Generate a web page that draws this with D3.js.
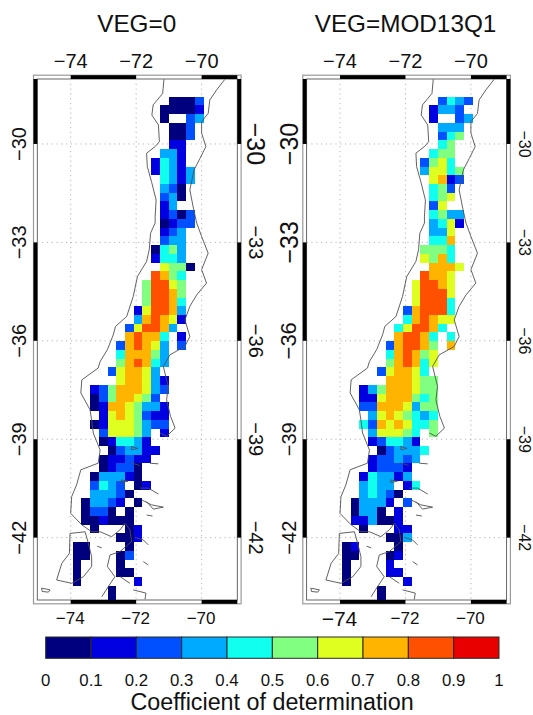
<!DOCTYPE html>
<html>
<head>
<meta charset="utf-8">
<script src="https://cdn.jsdelivr.net/npm/d3@7"></script>
<style>
html,body{margin:0;padding:0;background:#fff;}
svg{display:block;}
text{font-family:"Liberation Sans",Arial,sans-serif;fill:#111;}
</style>
</head>
<body>
<svg id="chart" width="533" height="715"></svg>
<script>
// ---------- data ----------
const panelTitles = ["VEG=0", "VEG=MOD13Q1"];
const lonTicks = [-74, -72, -70];
const latTicks = [-30, -33, -36, -39, -42];
const classBreaks = [0, 0.1, 0.2, 0.3, 0.4, 0.5, 0.6, 0.7, 0.8, 0.9, 1];
const breakLabels = ["0", "0.1", "0.2", "0.3", "0.4", "0.5", "0.6", "0.7", "0.8", "0.9", "1"];
const classColors = ["#00007f", "#0000e0", "#0050ff", "#00aaff", "#10ffee", "#80ff80", "#dfff20", "#ffb400", "#ff5000", "#e80000"];
const colorbarTitle = "Coefficient of determination";

// grid of the raster, degrees
const gridLon0 = -73.94, gridLat0 = -28.558, gridStepLon = 0.2666, gridStepLat = 0.2662;

// one string per grid row, north to south; digit = class index, "." = no data
const rowsVeg0 = [
"...........0002.","..........00001.","..........0..23.","...........002..","...........002..",
"...........11...","..........331...",".........1431...",".........14313..","..........4313..",
"..........320...","..........230...","..........13....","..........1202..","..........0122..",
"..........123...","..........233...",".........0453...",".........1443...","..........6550..",
".........8754...","........58865...","........58875...","........58874...",".......168873...",
".......378761...","......268873....","......78774.1...",".....278763.2...",".....477753.....",
".....578743.....","....267763......",".....677631.....","..125777632.....","..02577652......",
"..017765331.....","...16765211.....","..016665322.....","...266653.1.....","...014431.......",
"....023311......","...011211.......","...01220........","..033310........","..2432.01.......",
"..33320.........",".03321.0........",".0220.0.........",".001000.........","..0...01........",
".....001........","00....0.........","00...02.........","0....0..........","0....00.........",
"0......1........","....0...........","....0..........."
];
const rowsMod = [
"...........2432.","..........1332..","..........1..23.","...........333..","...........245..",
"...........45...","..........455...",".........2564...",".........36645..","..........6712..",
"..........452...","..........456...","..........26....","..........4533..","..........3461..",
"..........336...","..........447...",".........5554...",".........6574...","..........7776..",
".........8776...","........68876...","........68886...","........68884...",".......278884...",
".......478766...","......468874....","......78874.4...",".....278875.7...",".....478756.....",
".....578746.....","....267764......",".....777655.....","..135777655.....","..116777545.....",
"..227776355.....","...36765434.....","..427676445.....","...366654.5.....","...124431.......",
"....023334......","...122323.......","...12221........","..143313........","..3433.14.......",
"..34320.........",".03331.2........",".0330.1.........",".113001.........","..0...11........",
".....003........","01....0.........","00...01.........","0....1..........","0....11.........",
"0......1........","....0...........","....0..........."
];

// coastline and border, [lon, lat]
const westCoast = [[-71.15,-28.03],[-71.19,-28.46],[-71.48,-28.81],[-71.52,-29.12],[-71.32,-29.42],[-71.29,-29.93],[-71.42,-30.08],[-71.68,-30.28],[-71.66,-30.69],[-71.53,-31.15],[-71.39,-31.71],[-71.42,-32.22],[-71.42,-32.41],[-71.56,-32.72],[-71.60,-33.22],[-71.68,-33.58],[-71.96,-34.04],[-72.09,-34.65],[-72.29,-35.26],[-72.63,-35.56],[-72.70,-35.82],[-72.88,-36.27],[-73.10,-36.63],[-73.16,-36.83],[-73.66,-37.19],[-73.69,-37.59],[-73.41,-38.10],[-73.36,-38.41],[-73.31,-38.81],[-73.10,-39.33],[-73.16,-39.73],[-73.69,-39.93],[-73.82,-40.39],[-73.97,-40.75],[-74.00,-41.26],[-73.66,-41.61],[-73.36,-41.82],[-73.10,-41.82],[-72.75,-41.97],[-72.49,-41.76],[-72.34,-41.56],[-72.19,-41.76],[-72.14,-42.12],[-72.49,-42.42],[-72.80,-42.53],[-72.88,-42.88],[-72.65,-43.19],[-72.85,-43.49],[-73.05,-43.80]];
const eastBorder = [[-69.29,-28.03],[-69.54,-28.35],[-69.75,-28.66],[-69.80,-29.07],[-70.00,-29.32],[-70.00,-29.67],[-69.87,-30.08],[-70.05,-30.44],[-70.23,-30.79],[-70.36,-31.40],[-70.25,-31.96],[-70.17,-32.32],[-70.15,-32.41],[-70.00,-32.82],[-69.80,-33.33],[-70.00,-33.83],[-69.85,-34.24],[-70.15,-34.60],[-70.36,-34.95],[-70.51,-35.36],[-70.36,-35.87],[-70.51,-36.17],[-70.97,-36.43],[-71.17,-36.78],[-71.02,-37.39],[-71.07,-37.80],[-70.95,-38.30],[-70.81,-38.66],[-71.07,-38.91],[-71.27,-38.81]];
const fjords = [
[[-71.58,-39.73],[-71.32,-39.75]],
[[-71.88,-40.49],[-71.63,-40.49],[-71.32,-40.67]],
[[-71.83,-40.85],[-71.53,-41.0],[-71.17,-41.07],[-71.48,-41.13],[-71.68,-40.90]],
[[-71.68,-41.31],[-71.5,-41.34]],
[[-72.04,-41.99],[-71.78,-42.07],[-71.63,-42.22]],
[[-71.78,-42.73],[-71.63,-42.83]],
[[-72.49,-43.19],[-72.19,-43.39]],
[[-72.09,-43.59],[-71.7,-43.69],[-71.73,-43.88]],
[[-73.19,-42.26],[-73.05,-42.31]],
[[-72.15,-39.72],[-71.9,-39.8]],
[[-74.02,-41.87],[-73.56,-41.82],[-73.46,-42.17],[-73.36,-42.58],[-73.36,-42.88],[-73.61,-43.19],[-73.97,-43.39],[-74.43,-43.29],[-74.27,-42.78],[-74.04,-42.48],[-74.02,-41.87]],
[[-74.89,-43.54],[-74.63,-43.59],[-74.68,-43.66],[-74.87,-43.64],[-74.89,-43.54]],
[[-72.14,-39.22],[-71.95,-39.28],[-72.14,-39.32],[-72.14,-39.22]],
[[-72.45,-40.24],[-72.25,-40.28],[-72.45,-40.32],[-72.45,-40.24]]
];

// ---------- layout and styles ----------
const minus = v => String(v).replace("-", "\u2212");
const innerW = 200, innerH = 521, bar = 3.8;
const panels = [
  {rows: rowsVeg0, left: 37.3, top: 79, titleX: 136.7,
   topFont: [20,20,20], bottomFont: [17,17,17], leftFont: [20,20,20,20,20], rightFont: [25,20,20,20,20],
   leftX: -18.6, rightX: 219},
  {rows: rowsMod, left: 306.6, top: 79, titleX: 405.5,
   topFont: [20,20,20], bottomFont: [21,17,17], leftFont: [25,25,22,20,20], rightFont: [16,16,16,16,16],
   leftX: -18, rightX: 217.5}
];
const x = d3.scaleLinear().domain([-75.02, -68.91]).range([0, innerW]);
const y = d3.scaleLinear().domain([-28.02, -43.9]).range([0, innerH]);
const line = d3.line().x(d => x(d[0])).y(d => y(d[1]));
const svg = d3.select("#chart");

panels.forEach((p, pi) => {
  svg.append("text").attr("x", p.titleX).attr("y", 23).attr("text-anchor", "middle")
     .attr("dominant-baseline", "central").style("font-size", "24.3px").text(panelTitles[pi]);

  const g = svg.append("g").attr("transform", `translate(${p.left},${p.top})`);

  // frame, hollow part
  g.append("rect").attr("x", -bar).attr("y", -bar).attr("width", innerW + 2 * bar).attr("height", innerH + 2 * bar)
   .attr("fill", "#fff").attr("stroke", "#9a9a9a").attr("stroke-width", 1.2);
  g.append("rect").attr("width", innerW).attr("height", innerH)
   .attr("fill", "#fff").attr("stroke", "#555").attr("stroke-width", 0.9);

  // graticule
  const dotted = s => s.attr("stroke", "#b4b4b4").attr("stroke-width", 1).attr("stroke-dasharray", "1.2 3.6");
  g.selectAll(".vg").data(lonTicks).join("line").attr("x1", d => x(d)).attr("x2", d => x(d))
   .attr("y1", 0).attr("y2", innerH).call(dotted);
  g.selectAll(".hg").data(latTicks).join("line").attr("y1", d => y(d)).attr("y2", d => y(d))
   .attr("x1", 0).attr("x2", innerW).call(dotted);

  // raster
  const cells = [];
  p.rows.forEach((row, r) => row.split("").forEach((ch, c) => {
    if (ch !== ".") cells.push({lon: gridLon0 + c * gridStepLon, lat: gridLat0 - r * gridStepLat, k: +ch});
  }));
  g.selectAll(".cell").data(cells).join("rect").attr("class", "cell")
   .attr("x", d => x(d.lon)).attr("y", d => y(d.lat))
   .attr("width", d => x(d.lon + gridStepLon) - x(d.lon))
   .attr("height", d => y(d.lat - gridStepLat) - y(d.lat))
   .attr("fill", d => classColors[d.k]).attr("shape-rendering", "crispEdges");

  // coast
  [westCoast, eastBorder].concat(fjords).forEach(seg => {
    g.append("path").attr("d", line(seg)).attr("fill", "none").attr("stroke", "#505050").attr("stroke-width", 0.9);
  });

  // thick alternating bars
  const blackLon = [[-74, -72], [-70, x.domain()[1]]];
  const blackLat = [[y.domain()[0], -30], [-33, -36], [-39, -42]];
  blackLon.forEach(([a, b]) => {
    g.append("rect").attr("x", x(a)).attr("width", x(b) - x(a)).attr("y", -bar).attr("height", bar).attr("fill", "#000");
    g.append("rect").attr("x", x(a)).attr("width", x(b) - x(a)).attr("y", innerH).attr("height", bar).attr("fill", "#000");
  });
  blackLat.forEach(([a, b]) => {
    g.append("rect").attr("y", y(a)).attr("height", y(b) - y(a)).attr("x", -bar).attr("width", bar).attr("fill", "#000");
    g.append("rect").attr("y", y(a)).attr("height", y(b) - y(a)).attr("x", innerW).attr("width", bar).attr("fill", "#000");
  });

  // tick labels
  lonTicks.forEach((t, i) => {
    g.append("text").attr("x", x(t)).attr("y", -18.5).attr("text-anchor", "middle").attr("dominant-baseline", "central")
     .style("font-size", p.topFont[i] + "px").text(minus(t));
    g.append("text").attr("x", x(t) - 0.5).attr("y", 539).attr("text-anchor", "middle").attr("dominant-baseline", "central")
     .style("font-size", p.bottomFont[i] + "px").text(minus(t));
  });
  latTicks.forEach((t, i) => {
    g.append("text").attr("transform", `translate(${p.leftX},${y(t)}) rotate(-90)`).attr("text-anchor", "middle")
     .attr("dominant-baseline", "central").style("font-size", p.leftFont[i] + "px").text(minus(t));
    g.append("text").attr("transform", `translate(${p.rightX},${y(t)}) rotate(90)`).attr("text-anchor", "middle")
     .attr("dominant-baseline", "central").style("font-size", p.rightFont[i] + "px").text(minus(t));
  });
});

// ---------- colour bar ----------
const cb = d3.scaleLinear().domain([0, 1]).range([45.7, 499]);
const cbTop = 637, cbH = 21.3;
svg.selectAll(".cb").data(classColors).join("rect").attr("class", "cb")
   .attr("x", (d, i) => cb(classBreaks[i])).attr("width", (d, i) => cb(classBreaks[i + 1]) - cb(classBreaks[i]))
   .attr("y", cbTop).attr("height", cbH).attr("fill", d => d).attr("stroke", "#2a2a2a").attr("stroke-width", 1);
svg.selectAll(".cbl").data(breakLabels).join("text").attr("class", "cbl")
   .attr("x", (d, i) => cb(classBreaks[i])).attr("y", 680).attr("text-anchor", "middle")
   .attr("dominant-baseline", "central").style("font-size", "16.8px").text(d => d);
svg.append("text").attr("x", 272).attr("y", 710).attr("text-anchor", "middle")
   .style("font-size", "23.3px").text(colorbarTitle);
</script>
</body>
</html>
